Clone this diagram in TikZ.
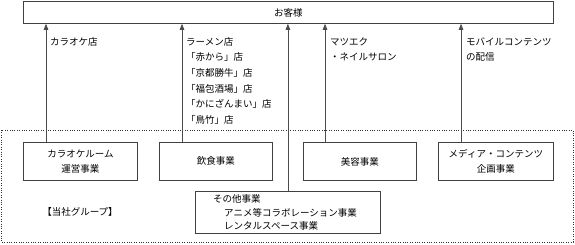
\documentclass[tikz,border=0pt]{standalone}
\usepackage{fontspec}
\setmainfont{Noto Sans CJK JP}
\usetikzlibrary{arrows.meta}
\begin{document}
\begin{tikzpicture}[x=1pt,y=-1pt,
  box/.style={draw=black!75, line width=0.8pt, fill=white, inner sep=0pt, align=center,
              font=\fontsize{9.5}{14.5}\selectfont},
  txt/.style={inner sep=0pt, anchor=west, font=\fontsize{9.5}{14}\selectfont},
  conn/.style={draw=black!70, line width=0.8pt, -{Triangle[length=6pt,width=4.5pt]}},
  grpline/.style={draw=black!80, line width=0.8pt, dash pattern=on 1pt off 1.4pt},
]
\useasboundingbox (0,0) rectangle (575,245);
% group frame
\draw[grpline] (1,130) rectangle (573,242);
% customer box
\node[box, anchor=north west, minimum width=530, minimum height=22] (cust) at (23,1) {お客様};
% business boxes
\node[box, anchor=north west, minimum width=114, minimum height=38] (kara) at (23,142) {カラオケルーム\\運営事業};
\node[box, anchor=north west, minimum width=113, minimum height=38] (food) at (159,142) {飲食事業};
\node[box, anchor=north west, minimum width=113, minimum height=38] (beauty) at (303,142) {美容事業};
\node[box, anchor=north west, minimum width=115, minimum height=38] (media) at (438,142) {メディア・コンテンツ\\企画事業};
\node[box, anchor=north west, minimum width=185, minimum height=42] (other) at (195,191) {};
% other box texts
\node[txt] (o1) at (213,199) {その他事業};
\node[txt] (o2) at (224,212.5) {アニメ等コラボレーション事業};
\node[txt] (o3) at (224,226) {レンタルスペース事業};
% group label
\node[txt, anchor=center] (grp) at (80,212) {【当社グループ】};
% connector x positions
\coordinate (xk) at (46,0);
\coordinate (xf) at (182,0);
\coordinate (xb) at (325,0);
\coordinate (xm) at (461,0);
% connectors
\draw[conn] (kara.north -| xk) -- (cust.south -| xk);
\draw[conn] (food.north -| xf) -- (cust.south -| xf);
\draw[conn] (other.north) -- (cust.south -| other.north);
\draw[conn] (beauty.north -| xb) -- (cust.south -| xb);
\draw[conn] (media.north -| xm) -- (cust.south -| xm);
% labels
\node[txt] (lk) at (50,41.7) {カラオケ店};
\node[txt] (lf1) at (186,41.7) {ラーメン店};
\node[txt] (lf2) at (186,57.3) {「赤から」店};
\node[txt] (lf3) at (186,72.9) {「京都勝牛」店};
\node[txt] (lf4) at (186,88.5) {「福包酒場」店};
\node[txt] (lf5) at (186,104.1) {「かにざんまい」店};
\node[txt] (lf6) at (186,119.7) {「鳥竹」店};
\node[txt] (lb1) at (330,41.7) {マツエク};
\node[txt] (lb2) at (330,57.3) {・ネイルサロン};
\node[txt] (lm1) at (466,41.7) {モバイルコンテンツ};
\node[txt] (lm2) at (466,57.3) {の配信};
\end{tikzpicture}
\end{document}
